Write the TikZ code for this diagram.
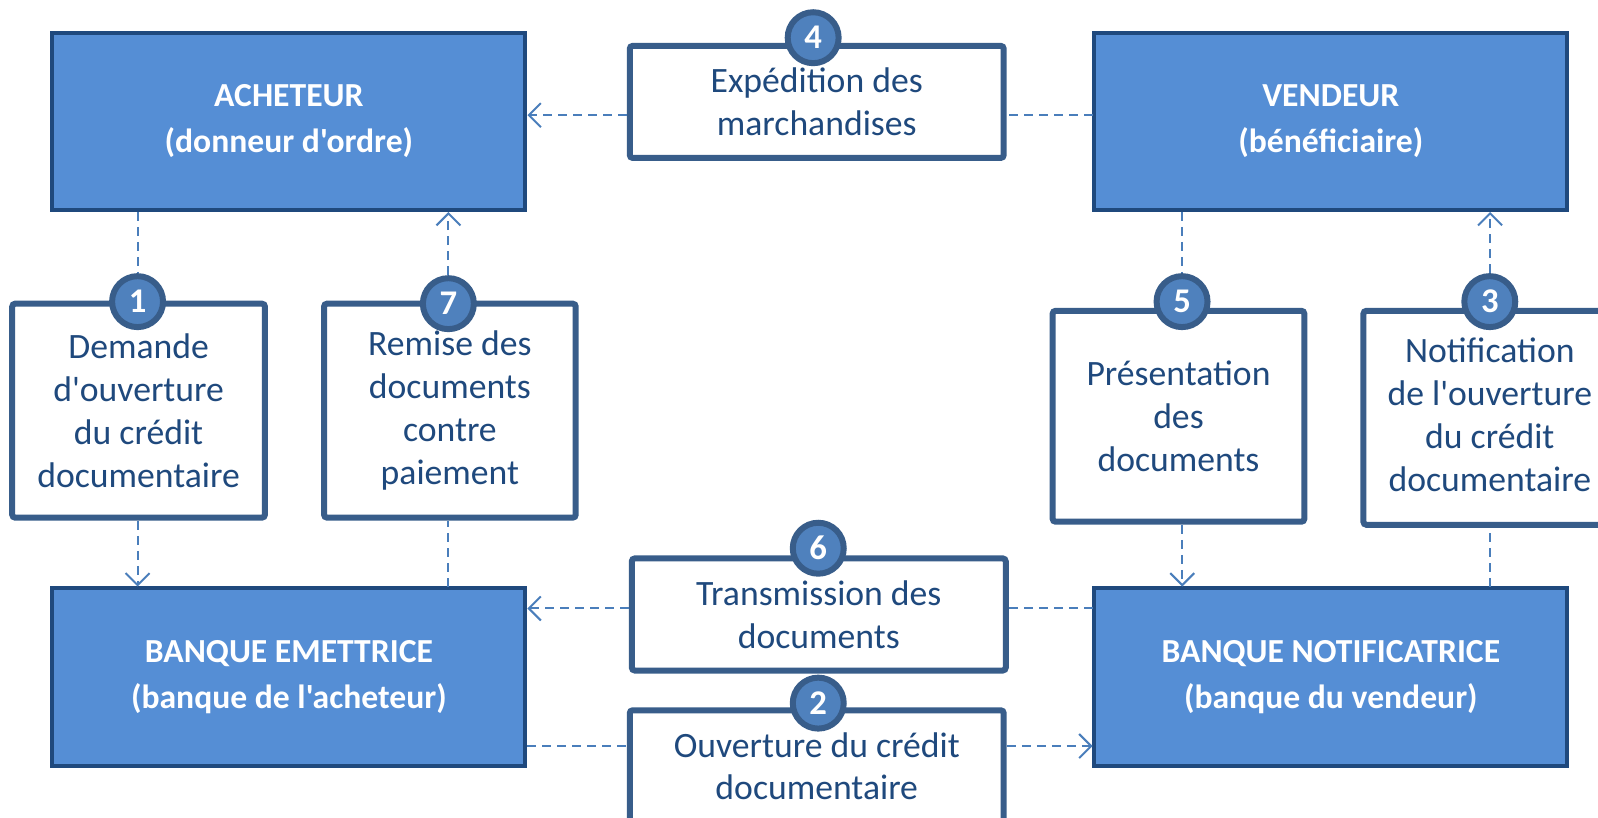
\documentclass[tikz,border=0pt]{standalone}
\usepackage{fontspec}
\setmainfont{Carlito}[Ligatures=TeXOff]
\usetikzlibrary{arrows.meta}
\definecolor{boxfill}{HTML}{558ED5}
\definecolor{boxline}{HTML}{1F497D}
\definecolor{stepline}{HTML}{385D8A}
\definecolor{numfill}{HTML}{4F81BD}
\definecolor{steptext}{HTML}{1F497D}
\definecolor{linkcol}{HTML}{4A7EBB}

\begin{document}
\begin{tikzpicture}
[x=0.5pt,y=-0.5pt,scale=1.019,every node/.append style={transform shape},%
  bigbox/.style={rectangle,draw=boxline,fill=boxfill,line width=2pt,minimum width=232pt,minimum height=87pt,text=white,align=center,font=\fontsize{16.5}{22.5}\selectfont\bfseries},%
  stepbox/.style={rectangle,draw=stepline,fill=white,line width=3pt,rounded corners=1.5pt,inner sep=0pt,text=steptext,align=center,font=\fontsize{17.5}{21}\selectfont},%
  steptext/.style={inner sep=0pt,text=steptext,align=center,font=\fontsize{17.5}{21}\selectfont},%
  num/.style={circle,draw=stepline,fill=numfill,line width=3pt,minimum size=25pt,inner sep=0pt,text=white,font=\fontsize{17}{17}\selectfont\bfseries},%
  link/.style={draw=linkcol,line width=1pt,dash pattern=on 4.5pt off 3pt},%
  >={Straight Barb[length=6pt,width=12pt]}]
\clip (0,0) rectangle (1568.2,801.8);
%% parties
\node[bigbox] (acheteur) at (283.5,119) {ACHETEUR\\(donneur d'ordre)};
\node[bigbox] (vendeur) at (1306,119) {VENDEUR\\(bénéficiaire)};
\node[bigbox] (emettrice) at (283.5,664.5) {BANQUE EMETTRICE\\(banque de l'acheteur)};
\node[bigbox] (notif) at (1306,664.5) {BANQUE NOTIFICATRICE\\(banque du vendeur)};
%% etapes
\node[stepbox,minimum width=183.5pt,minimum height=55pt] (e4) at (801.5,100) {Expédition des\\marchandises};
\node[stepbox,minimum width=124pt,minimum height=105pt] (e1) at (136,403) {Demande\\d'ouverture\\du crédit\\documentaire};
\node[stepbox,minimum width=123.5pt,minimum height=105pt] (e7) at (441.5,403) {Remise des\\documents\\contre\\paiement};
\node[stepbox,minimum width=123.5pt,minimum height=103.5pt] (e5) at (1156.5,408.5) {Présentation\\des\\documents};
\node[stepbox,minimum width=141pt,minimum height=105pt] (e3) at (1479,410) {};
\node[steptext] (t3) at (1462,407) {Notification\\de l'ouverture\\du crédit\\documentaire};
\node[stepbox,minimum width=183.5pt,minimum height=55pt] (e6) at (803.5,603) {Transmission des\\documents};
\node[stepbox,minimum width=183.5pt,minimum height=66.5pt] (e2) at (801.5,763.5) {};
\node[steptext] (t2) at (801.5,752) {Ouverture du crédit\\documentaire};
%% numeros
\node[num] (n4) at (798,37) {4};
\node[num] (n1) at (135,296) {1};
\node[num] (n7) at (440,298) {7};
\node[num] (n5) at (1160,296) {5};
\node[num] (n3) at (1462,296) {3};
\node[num] (n6) at (803,538) {6};
\node[num] (n2) at (803,690) {2};
\coordinate (c4) at (0,113);
\coordinate (c6) at (0,597);
\coordinate (c2) at (0,732);
%% liaisons
\path
\foreach \upNode/\numNode/\stepNode/\lowNode in {acheteur/n1/e1/emettrice, vendeur/n5/e5/notif}
{
  (\upNode.south -| \numNode) edge[link] (\numNode.north)
  (\stepNode.south -| \numNode) edge[link,->] (\lowNode.north -| \numNode)
};
\path
\foreach \lowNode/\stepNode/\numNode/\upNode in {emettrice/e7/n7/acheteur, notif/e3/n3/vendeur}
{
  (\lowNode.north -| \numNode) edge[link] (\stepNode.south -| \numNode)
  (\numNode.north) edge[link,->] (\upNode.south -| \numNode)
};
\path
  (vendeur.west |- c4) edge[link] (e4.east |- c4)
  (e4.west |- c4) edge[link,->] (acheteur.east |- c4)
  (notif.west |- c6) edge[link] (e6.east |- c6)
  (e6.west |- c6) edge[link,->] (emettrice.east |- c6)
  (emettrice.east |- c2) edge[link] (e2.west |- c2)
  (e2.east |- c2) edge[link,->] (notif.west |- c2);
\end{tikzpicture}
\end{document}
